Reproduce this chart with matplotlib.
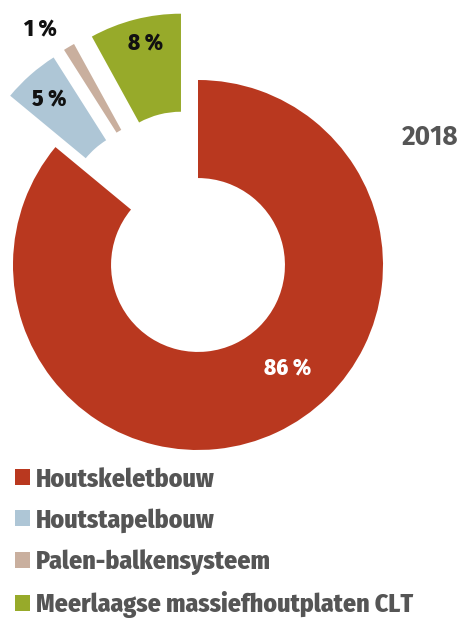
import matplotlib
matplotlib.use("Agg")
import matplotlib.pyplot as plt
from matplotlib.patches import Patch
import numpy as np

# data
categories = ["Houtskeletbouw", "Houtstapelbouw", "Palen-balkensysteem",
              "Meerlaagse massiefhoutplaten CLT"]
shares = [86, 5, 1, 8]
pct_labels = ["86 %", "5 %", "1 %", "8 %"]
year = "2018"

colors = ["#B9381F", "#AEC6D6", "#C9AF9E", "#97AA2A"]
label_colors = ["white", "#111111", "#111111", "#111111"]
explode = [0, 0.37, 0.37, 0.37]
# label placement (radius from centre, angle in degrees)
label_pos = [(0.74, -49.4), (1.20, 132.1), (1.53, 123.9), (1.23, 103.4)]

fam = ["Fira Sans Condensed", "DejaVu Sans"]
gray = "#555555"

fig = plt.figure(figsize=(4.64, 6.19), dpi=100)
ax = fig.add_axes([0, 169 / 619, 1, 450 / 619])

ax.pie(shares, colors=colors, startangle=90, counterclock=False,
       explode=explode, radius=1.0,
       wedgeprops=dict(width=0.53, linewidth=0))

for txt, col, (r, a) in zip(pct_labels, label_colors, label_pos):
    ax.text(r * np.cos(np.radians(a)), r * np.sin(np.radians(a)), txt,
            ha="center", va="center", color=col, fontsize=16.5,
            fontweight=800, family=fam)

ax.set_xlim(-198 / 185, 266 / 185)
ax.set_ylim(-185 / 185, 265 / 185)
ax.set_aspect("auto")
ax.axis("off")

fig.text(430 / 464, 1 - 137 / 619, year, ha="center", va="center",
         fontsize=19, fontweight="bold", color=gray,
         family=["Fira Sans", "DejaVu Sans"])

handles = [Patch(facecolor=c, edgecolor="none") for c in colors]
fig.legend(handles, categories, loc="upper left",
           bbox_to_anchor=(15 / 464, 1 - 467 / 619), frameon=False,
           handlelength=0.58, handleheight=0.58, handletextpad=0.23,
           labelspacing=0.63, borderpad=0, borderaxespad=0,
           labelcolor=gray,
           prop=dict(family=fam, weight=800, size=18.5))

fig.savefig("out.png", dpi=100)
